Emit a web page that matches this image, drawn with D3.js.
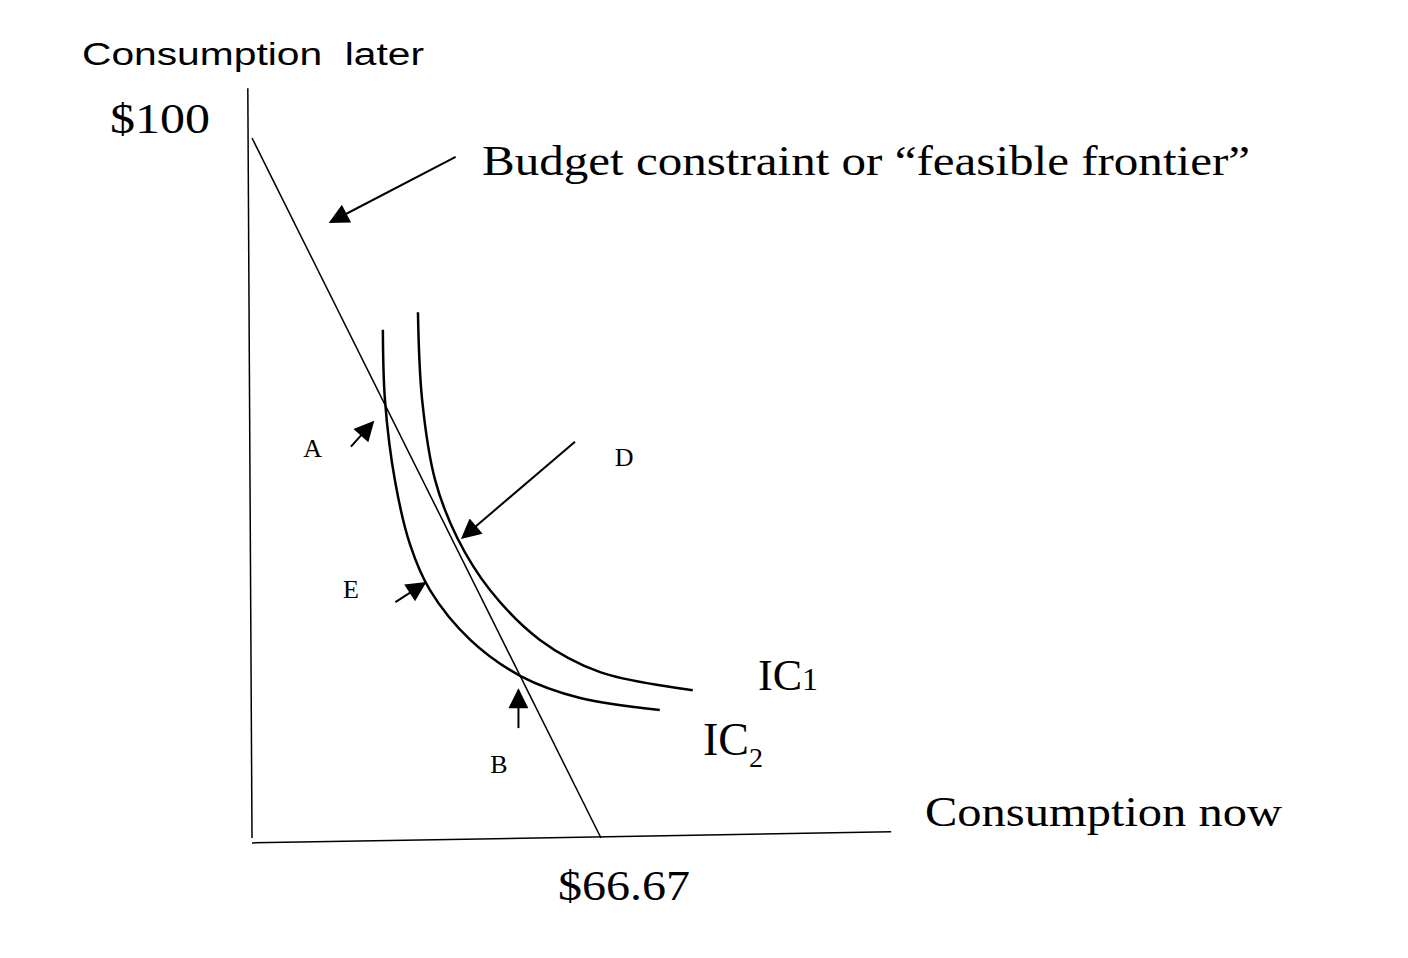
<!DOCTYPE html>
<html><head><meta charset="utf-8">
<script src="https://cdn.jsdelivr.net/npm/d3@7"></script>
<style>body{margin:0;background:#fff}</style></head>
<body><svg id="c" width="1408" height="958"></svg>
<script>
const budget = [[0,100],[66.67,0]];
const ic2 = [[25.0,72.6],[25.4,62.6],[27.3,51.1],[30.2,41.9],[34.0,35.4],[41.7,28.3],[51.4,23.1],[62.7,20.0],[77.9,18.3]];
const ic1 = [[31.7,75.1],[32.5,62.6],[35.0,51.1],[39.2,42.9],[45.5,35.4],[55.0,28.3],[66.5,23.7],[84.2,21.1]];
const xAxisPts = [[0,-0.7],[122.1,0.9]];
const yAxisPts = [[-0.8,107.1],[0,0]];
const arrows = [
  [[38.9,97.3],[15.0,88.0]],
  [[61.7,56.6],[40.2,42.9]],
  [[18.9,55.9],[23.1,59.4]],
  [[27.4,33.7],[33.0,36.4]],
  [[50.9,15.7],[50.9,21.1]]
];
const pointLabels = [["A",9.8,54.5],["D",69.3,53.1],["E",17.4,34.3],["B",45.5,9.3]];

const x = d3.scaleLinear().domain([0,66.67]).range([252,601]);
const y = d3.scaleLinear().domain([0,100]).range([838,138]);
const svg = d3.select("#c");
svg.append("defs").append("marker").attr("id","ah").attr("viewBox","0 0 10 10")
  .attr("refX",9).attr("refY",5).attr("markerWidth",24).attr("markerHeight",20)
  .attr("markerUnits","userSpaceOnUse").attr("orient","auto")
  .append("path").attr("d","M0,0L10,5L0,10z").attr("fill","#000");

const line = d3.line().x(d=>x(d[0])).y(d=>y(d[1]));
const curve = d3.line().x(d=>x(d[0])).y(d=>y(d[1])).curve(d3.curveCatmullRom.alpha(0.5));
[xAxisPts,yAxisPts,budget].forEach(p=>svg.append("path").attr("d",line(p)).attr("fill","none").attr("stroke","#000").attr("stroke-width",1.5));
[ic1,ic2].forEach(p=>svg.append("path").attr("d",curve(p)).attr("fill","none").attr("stroke","#000").attr("stroke-width",2.5));
arrows.forEach(a=>svg.append("path").attr("d",line(a)).attr("stroke","#000").attr("stroke-width",2).attr("marker-end","url(#ah)"));

const serif = "Liberation Serif, Times New Roman, serif";
function t(txt,px,py,size,len,fam){const e=svg.append("text").attr("x",px).attr("y",py).attr("font-size",size).attr("font-family",fam||serif).text(txt);
  if(len) e.attr("textLength",len).attr("lengthAdjust","spacingAndGlyphs"); return e;}
t("Consumption  later",82,65,31,342,"Liberation Sans, Arial, sans-serif").attr("xml:space","preserve");
t("$100",110,133,42,100);
t("Budget constraint or \u201cfeasible frontier\u201d",482,175,42,768);
pointLabels.forEach(d=>t(d[0],x(d[1]),y(d[2]),26));
const ic1t=t("IC",758,690,44); ic1t.append("tspan").attr("font-size",32).text("1");
const ic2t=t("IC",703,755,46); ic2t.append("tspan").attr("font-size",28).attr("dy",12).text("2");
t("Consumption now",925,826,42,357);
t("$66.67",558,900,42,132);
</script></body></html>
